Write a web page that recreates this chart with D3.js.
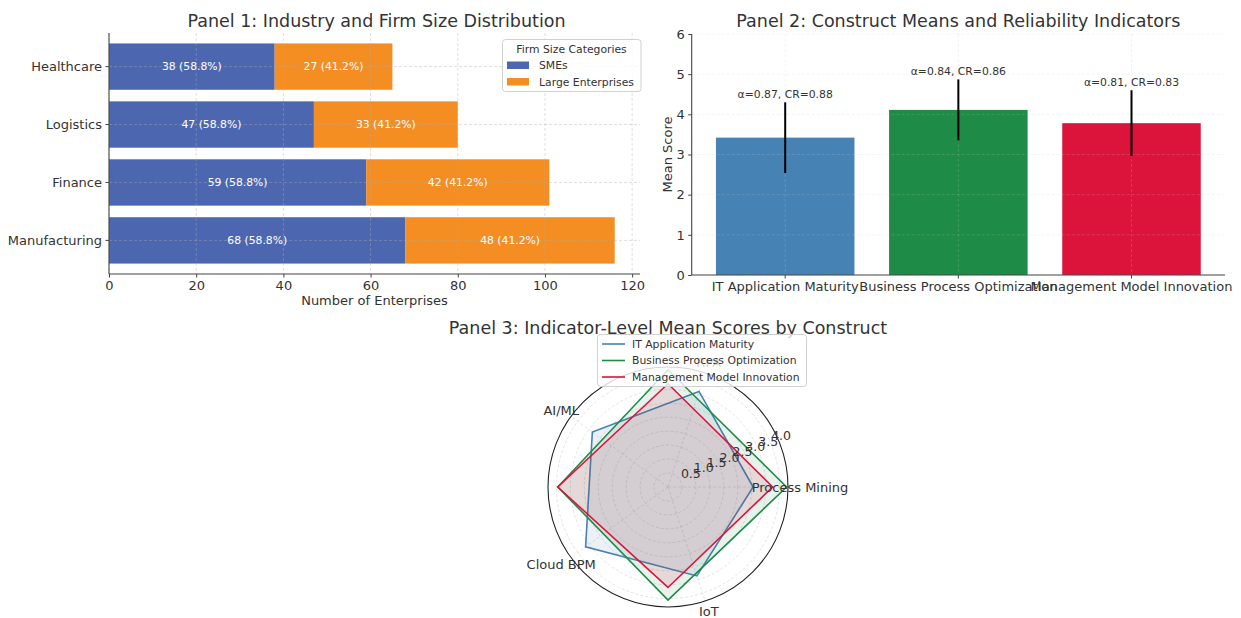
<!DOCTYPE html>
<html>
<head>
<meta charset="utf-8">
<script src="https://cdn.jsdelivr.net/npm/d3@7"></script>
<style>
  html, body { margin: 0; padding: 0; background: #ffffff; }
  svg { display: block; font-family: "DejaVu Sans", sans-serif; }
</style>
</head>
<body>
<svg id="chart" width="1241" height="618"></svg>
<script>
// ---- Panel 1: industry / firm size ----
const industries = ["Manufacturing", "Finance", "Logistics", "Healthcare"];
const smeCounts = [68, 59, 47, 38];
const largeCounts = [48, 42, 33, 27];
const smeShare = [58.8, 58.8, 58.8, 58.8];
const largeShare = [41.2, 41.2, 41.2, 41.2];
const sizeCategories = ["SMEs", "Large Enterprises"];
const countTicks = [0, 20, 40, 60, 80, 100, 120];

// ---- Panel 2: construct means ----
const constructs = ["IT Application Maturity", "Business Process Optimization", "Management Model Innovation"];
const constructMeans = [3.42, 4.11, 3.78];
const constructSD = [0.88, 0.76, 0.82];
const cronbachAlpha = [0.87, 0.84, 0.81];
const compositeRel = [0.88, 0.86, 0.83];
const scoreTicks = [0, 1, 2, 3, 4, 5, 6];

// ---- Panel 3: indicator-level scores ----
const indicators = ["Process Mining", "RPA", "AI/ML", "Cloud BPM", "IoT"];
const itScores = [3.05, 3.6, 3.35, 3.65, 3.35];
const bpoScores = [4.25, 4.2, 3.95, 4.05];
const mmiScores = [3.75, 3.7, 3.95, 3.6];
const radialTicks = [0.5, 1.0, 1.5, 2.0, 2.5, 3.0, 3.5, 4.0];

const sizeColors = ["#4c67b0", "#f48d22"];
const constructColors = ["#4682b4", "#1e8b46", "#dc143c"];
const textColor = "#333333";
const spineColor = "#444444";
const titleSize = 17.5;

const svg = d3.select("#chart");

// ================= Panel 1 =================
(function () {
  const L = 109, R = 640, T = 33, B = 274;
  const g = svg.append("g");
  const x = d3.scaleLinear().domain([0, 121.8]).range([L, R]);
  const y = d3.scaleBand().domain(industries.slice().reverse()).range([T, B])
    .paddingInner(0.2).paddingOuter(0.18);

  const rows = industries.map((name, i) => ({
    name, sme: smeCounts[i], large: largeCounts[i], smeP: smeShare[i], largeP: largeShare[i]
  }));

  // stacked bars
  g.selectAll("rect.sme").data(rows).join("rect")
    .attr("x", x(0)).attr("y", d => y(d.name))
    .attr("width", d => x(d.sme) - x(0)).attr("height", y.bandwidth())
    .attr("fill", sizeColors[0]);
  g.selectAll("rect.large").data(rows).join("rect")
    .attr("x", d => x(d.sme)).attr("y", d => y(d.name))
    .attr("width", d => x(d.sme + d.large) - x(d.sme)).attr("height", y.bandwidth())
    .attr("fill", sizeColors[1]);

  // grid above bars
  const grid = g.append("g").attr("stroke", "#b0b0b0").attr("stroke-opacity", 0.5)
    .attr("stroke-dasharray", "3,2").attr("stroke-width", 0.8);
  grid.selectAll("line.v").data(countTicks).join("line")
    .attr("x1", d => x(d)).attr("x2", d => x(d)).attr("y1", T).attr("y2", B);
  grid.selectAll("line.h").data(industries).join("line")
    .attr("x1", L).attr("x2", R)
    .attr("y1", d => y(d) + y.bandwidth() / 2).attr("y2", d => y(d) + y.bandwidth() / 2);

  // segment labels
  g.selectAll("text.smel").data(rows).join("text")
    .attr("x", d => x(d.sme / 2)).attr("y", d => y(d.name) + y.bandwidth() / 2)
    .attr("dy", "0.35em").attr("text-anchor", "middle")
    .attr("fill", "#ffffff").attr("font-size", 10.8)
    .text(d => `${d.sme} (${d.smeP.toFixed(1)}%)`);
  g.selectAll("text.largel").data(rows).join("text")
    .attr("x", d => x(d.sme + d.large / 2)).attr("y", d => y(d.name) + y.bandwidth() / 2)
    .attr("dy", "0.35em").attr("text-anchor", "middle")
    .attr("fill", "#ffffff").attr("font-size", 10.8)
    .text(d => `${d.large} (${d.largeP.toFixed(1)}%)`);

  // axes
  const xAxis = g.append("g").attr("transform", `translate(0,${B})`)
    .call(d3.axisBottom(x).tickValues(countTicks).tickSize(3.5).tickPadding(3.5).tickSizeOuter(0));
  const yAxis = g.append("g").attr("transform", `translate(${L},0)`)
    .call(d3.axisLeft(y).tickSize(3.5).tickPadding(3.5).tickSizeOuter(0));
  [xAxis, yAxis].forEach(a => {
    a.select(".domain").attr("stroke", spineColor).attr("stroke-width", 1.1);
    a.selectAll(".tick line").attr("stroke", spineColor);
    a.selectAll(".tick text").attr("fill", textColor).attr("font-size", 13)
      .attr("font-family", "DejaVu Sans");
  });
  xAxis.select(".domain").attr("d", `M${L},0H${R}`);
  yAxis.select(".domain").attr("d", `M0,${T}V${B}`);

  g.append("text").attr("x", (L + R) / 2).attr("y", 305).attr("text-anchor", "middle")
    .attr("font-size", 13).attr("fill", textColor).text("Number of Enterprises");
  g.append("text").attr("x", (L + R) / 2 + 2).attr("y", 26.5).attr("text-anchor", "middle")
    .attr("font-size", titleSize).attr("fill", textColor).text("Panel 1: Industry and Firm Size Distribution");

  // legend
  const lg = g.append("g");
  lg.append("rect").attr("x", 502.5).attr("y", 39.5).attr("width", 138.5).attr("height", 52)
    .attr("rx", 3).attr("fill", "#ffffff").attr("fill-opacity", 0.8)
    .attr("stroke", "#d0d0d0").attr("stroke-width", 1);
  lg.append("text").attr("x", 571.5).attr("y", 53).attr("text-anchor", "middle")
    .attr("font-size", 10.8).attr("fill", textColor).text("Firm Size Categories");
  lg.selectAll("rect.sw").data(sizeCategories).join("rect")
    .attr("x", 507).attr("y", (d, i) => 61.5 + i * 16.5).attr("width", 22).attr("height", 7.5)
    .attr("fill", (d, i) => sizeColors[i]);
  lg.selectAll("text.lt").data(sizeCategories).join("text")
    .attr("x", 539).attr("y", (d, i) => 65.3 + i * 16.5).attr("dy", "0.35em")
    .attr("font-size", 10.8).attr("fill", textColor).text(d => d);
})();

// ================= Panel 2 =================
(function () {
  const L = 691.7, R = 1225, T = 34, B = 275;
  const g = svg.append("g");
  const x = d3.scaleBand().domain(constructs).range([L, R]).paddingInner(0.2).paddingOuter(0.14);
  const y = d3.scaleLinear().domain([0, 6]).range([B, T]);

  const rows = constructs.map((c, i) => ({
    c, mean: constructMeans[i], sd: constructSD[i], a: cronbachAlpha[i], cr: compositeRel[i], color: constructColors[i]
  }));

  g.selectAll("rect.bar").data(rows).join("rect")
    .attr("x", d => x(d.c)).attr("y", d => y(d.mean))
    .attr("width", x.bandwidth()).attr("height", d => y(0) - y(d.mean))
    .attr("fill", d => d.color);

  const grid = g.append("g").attr("stroke", "#cccccc").attr("stroke-opacity", 0.3)
    .attr("stroke-dasharray", "3,2").attr("stroke-width", 0.7);
  grid.selectAll("line.h").data(scoreTicks).join("line")
    .attr("x1", L).attr("x2", R).attr("y1", d => y(d)).attr("y2", d => y(d));
  grid.selectAll("line.v").data(constructs).join("line")
    .attr("x1", d => x(d) + x.bandwidth() / 2).attr("x2", d => x(d) + x.bandwidth() / 2)
    .attr("y1", T).attr("y2", B);

  // error bars
  g.selectAll("line.err").data(rows).join("line")
    .attr("x1", d => x(d.c) + x.bandwidth() / 2).attr("x2", d => x(d.c) + x.bandwidth() / 2)
    .attr("y1", d => y(d.mean - d.sd)).attr("y2", d => y(d.mean + d.sd))
    .attr("stroke", "#000000").attr("stroke-width", 2);

  g.selectAll("text.rel").data(rows).join("text")
    .attr("x", d => x(d.c) + x.bandwidth() / 2).attr("y", d => y(d.mean + d.sd + 0.1))
    .attr("text-anchor", "middle").attr("font-size", 10.8).attr("fill", textColor)
    .text(d => `α=${d.a.toFixed(2)}, CR=${d.cr.toFixed(2)}`);

  const xAxis = g.append("g").attr("transform", `translate(0,${B})`)
    .call(d3.axisBottom(x).tickSize(3.5).tickPadding(3.5).tickSizeOuter(0));
  const yAxis = g.append("g").attr("transform", `translate(${L},0)`)
    .call(d3.axisLeft(y).tickValues(scoreTicks).tickFormat(d3.format("d")).tickSize(3.5).tickPadding(3.5).tickSizeOuter(0));
  [xAxis, yAxis].forEach(a => {
    a.select(".domain").attr("stroke", spineColor).attr("stroke-width", 1.1);
    a.selectAll(".tick line").attr("stroke", spineColor);
    a.selectAll(".tick text").attr("fill", textColor).attr("font-size", 13)
      .attr("font-family", "DejaVu Sans");
  });
  xAxis.select(".domain").attr("d", `M${L},0H${R}`);
  yAxis.select(".domain").attr("d", `M0,${T}V${B}`);

  g.append("text").attr("transform", `translate(672,${(T + B) / 2}) rotate(-90)`)
    .attr("text-anchor", "middle").attr("font-size", 13).attr("fill", textColor).text("Mean Score");
  g.append("text").attr("x", (L + R) / 2).attr("y", 26.5).attr("text-anchor", "middle")
    .attr("font-size", titleSize).attr("fill", textColor).text("Panel 2: Construct Means and Reliability Indicators");
})();

// ================= Panel 3 =================
(function () {
  const cx = 668, cy = 487, R = 120;
  const g = svg.append("g");
  const r = d3.scaleLinear().domain([0, 4.3]).range([0, R]);
  const toA = th => Math.PI / 2 - th; // ccw-from-east -> d3 radial angle

  g.append("text").attr("x", cx).attr("y", 334).attr("text-anchor", "middle")
    .attr("font-size", titleSize).attr("fill", textColor).text("Panel 3: Indicator-Level Mean Scores by Construct");

  const pg = g.append("g").attr("transform", `translate(${cx},${cy})`);

  // radial grid
  pg.selectAll("circle.grid").data(radialTicks).join("circle")
    .attr("r", d => r(d)).attr("fill", "none")
    .attr("stroke", "#c8c8c8").attr("stroke-opacity", 0.7)
    .attr("stroke-dasharray", "3,2").attr("stroke-width", 0.7);
  const thetas = indicators.map((d, i) => i * 2 * Math.PI / indicators.length);
  pg.selectAll("line.spoke").data(thetas).join("line")
    .attr("x1", 0).attr("y1", 0)
    .attr("x2", t => R * Math.cos(t)).attr("y2", t => -R * Math.sin(t))
    .attr("stroke", "#c8c8c8").attr("stroke-opacity", 0.7)
    .attr("stroke-dasharray", "3,2").attr("stroke-width", 0.7);

  // series polygons
  const series = [
    { name: constructs[0], vals: itScores, color: constructColors[0] },
    { name: constructs[1], vals: bpoScores, color: constructColors[1] },
    { name: constructs[2], vals: mmiScores, color: constructColors[2] }
  ];
  series.forEach(s => {
    const n = s.vals.length;
    const line = d3.lineRadial()
      .angle((d, i) => toA(i * 2 * Math.PI / n))
      .radius(d => r(d))
      .curve(d3.curveLinearClosed);
    pg.append("path").attr("d", line(s.vals)).attr("fill", s.color).attr("fill-opacity", 0.11)
      .attr("stroke", "none");
    pg.append("path").attr("d", line(s.vals)).attr("fill", "none")
      .attr("stroke", s.color).attr("stroke-width", 1.6).attr("stroke-linejoin", "miter");
  });

  // outer frame
  pg.append("circle").attr("r", R).attr("fill", "none").attr("stroke", "#222").attr("stroke-width", 1.1);

  // radial tick labels at 22.5 degrees
  const rl = 22.5 * Math.PI / 180;
  pg.selectAll("text.rt").data(radialTicks).join("text")
    .attr("x", d => r(d) * Math.cos(rl)).attr("y", d => -r(d) * Math.sin(rl) - 4)
    .attr("font-size", 12.5).attr("fill", textColor)
    .text(d => d.toFixed(1));

  // indicator labels
  pg.selectAll("text.th").data(indicators).join("text")
    .attr("x", (d, i) => (R + 12) * Math.cos(thetas[i]))
    .attr("y", (d, i) => -(R + 11) * Math.sin(thetas[i]))
    .attr("dy", "0.35em").attr("text-anchor", "middle")
    .attr("font-size", 13).attr("fill", textColor).text(d => d);

  // legend
  const lg = g.append("g");
  lg.append("rect").attr("x", 597.5).attr("y", 334.5).attr("width", 209).attr("height", 52)
    .attr("rx", 3).attr("fill", "#ffffff").attr("fill-opacity", 0.8)
    .attr("stroke", "#d0d0d0").attr("stroke-width", 1);
  lg.selectAll("line.ls").data(series).join("line")
    .attr("x1", 602).attr("x2", 625)
    .attr("y1", (d, i) => 344 + i * 16.5).attr("y2", (d, i) => 344 + i * 16.5)
    .attr("stroke", d => d.color).attr("stroke-width", 1.6);
  lg.selectAll("text.lt").data(series).join("text")
    .attr("x", 632).attr("y", (d, i) => 344 + i * 16.5).attr("dy", "0.35em")
    .attr("font-size", 10.8).attr("fill", textColor).text(d => d.name);
})();
</script>
</body>
</html>
